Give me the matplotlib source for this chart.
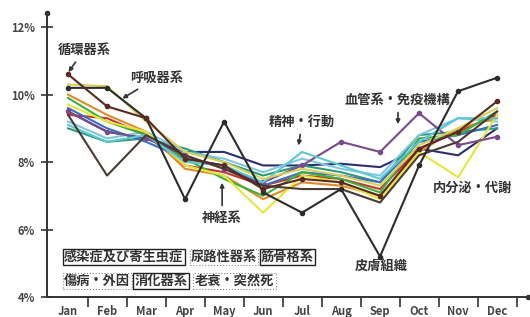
import matplotlib.pyplot as plt

plt.rcParams['font.family'] = ['Noto Sans CJK JP', 'DejaVu Sans']

months = ['Jan', 'Feb', 'Mar', 'Apr', 'May', 'Jun', 'Jul', 'Aug', 'Sep', 'Oct', 'Nov', 'Dec']

# monthly share of deaths (%) per cause
junkan = [10.6, 9.65, 9.3, 8.1, 7.9, 7.2, 7.5, 7.4, 7.0, 8.4, 8.9, 9.8]
kokyu = [10.3, 10.25, 9.2, 8.3, 8.0, 7.5, 7.8, 7.6, 7.3, 8.5, 9.0, 9.6]
hifu = [10.2, 10.2, 9.3, 6.9, 9.2, 7.1, 6.5, 7.2, 5.2, 7.9, 10.1, 10.5]
seishin = [9.1, 8.6, 8.8, 8.0, 7.9, 7.4, 8.3, 7.9, 7.5, 8.6, 9.3, 9.3]
ketsueki = [9.5, 8.9, 8.7, 8.2, 7.8, 7.4, 7.9, 8.6, 8.3, 9.45, 8.5, 8.75]
naibunpi = [9.7, 9.2, 8.9, 7.9, 7.6, 6.5, 7.6, 7.4, 6.9, 8.3, 7.55, 9.4]
shinkei = [9.9, 9.2, 8.8, 8.1, 7.5, 7.0, 7.7, 7.5, 7.1, 8.7, 8.8, 9.5]
shinsei = [9.5, 8.9, 8.7, 8.3, 8.3, 7.9, 7.9, 7.95, 7.85, 8.4, 8.2, 9.0]
shoka = [9.6, 9.0, 8.6, 8.1, 7.9, 7.3, 7.7, 7.6, 7.4, 8.6, 8.8, 9.1]
kansen = [9.4, 9.3, 8.8, 7.9, 7.7, 7.3, 7.6, 7.5, 7.2, 8.4, 8.9, 9.4]
nyoro = [10.0, 9.4, 8.9, 7.8, 7.6, 6.9, 7.4, 7.3, 7.0, 8.3, 9.0, 9.3]
kinkotsu = [9.2, 8.7, 8.9, 8.3, 8.1, 7.7, 8.1, 7.8, 7.6, 8.8, 9.3, 9.2]
shobyo = [9.0, 8.6, 8.7, 8.4, 8.0, 7.6, 7.9, 7.7, 7.4, 8.8, 8.9, 9.0]
rosui = [9.4, 7.6, 8.8, 8.2, 7.8, 7.3, 7.2, 7.2, 6.8, 8.2, 8.6, 9.5]

series = [
    (shinsei, '#2a2f6e', False),
    (shobyo, '#2e9a7a', False),
    (kinkotsu, '#7fc6e0', False),
    (kansen, '#c8342e', False),
    (nyoro, '#e08a2a', False),
    (shoka, '#3a6fc0', False),
    (shinkei, '#3fae3f', False),
    (naibunpi, '#e6e63a', False),
    (ketsueki, '#7a4a8a', True),
    (seishin, '#5cc8d0', False),
    (rosui, '#4a3a34', False),
    (kokyu, '#d8cf5a', False),
    (hifu, '#2c2c2c', True),
    (junkan, '#5a2a22', True),
]

fig = plt.figure(figsize=(5.3, 3.17), dpi=100)
ax = fig.add_axes([0.0887, 0.0631, 0.908, 0.896])

x = list(range(len(months)))
for vals, col, mk in series:
    ax.plot(x, vals, color=col, lw=1.5, marker='o' if mk else None, ms=3)

ax.set_xlim(-0.54, 11.8)
ax.set_ylim(4, 12.42)
ax.spines['top'].set_visible(False)
ax.spines['right'].set_visible(False)
for s in ['left', 'bottom']:
    ax.spines[s].set_color('#333333')
    ax.spines[s].set_linewidth(1.4)
ax.plot([0], [1], 'o', color='#333333', ms=3, transform=ax.transAxes, clip_on=False)
ax.plot([1], [0], 'o', color='#333333', ms=3, transform=ax.transAxes, clip_on=False)

ax.set_yticks([4, 6, 8, 10, 12])
ax.set_yticklabels(['4%', '6%', '8%', '10%', '12%'], fontsize=8, fontweight='bold', color='#444444')
ax.tick_params(axis='y', direction='inout', length=9, width=1.2, color='#333333', pad=4)
ax.set_xticks([i + 0.5 for i in range(12)])
ax.set_xticklabels([])
ax.set_xticks(x, minor=True)
ax.set_xticklabels(months, minor=True, fontsize=8, fontweight='bold', color='#444444')
ax.tick_params(axis='x', which='major', direction='out', length=7, width=1.2, color='#333333')
ax.tick_params(axis='x', which='minor', length=0, pad=6)

lab = dict(fontsize=9.5, fontweight='bold', color='#333333')
arw = dict(arrowstyle='-|>', color='#333333', lw=1.2, mutation_scale=6)
ax.annotate('循環器系', xy=(-0.03, 10.6), xytext=(0.41, 11.32), ha='center', va='center', arrowprops=arw, **lab)
ax.annotate('呼吸器系', xy=(1.33, 9.84), xytext=(2.26, 10.49), ha='center', va='center', arrowprops=arw, **lab)
ax.annotate('精神・行動', xy=(5.9, 8.41), xytext=(6.0, 9.19), ha='center', va='center', arrowprops=arw, **lab)
ax.annotate('血管系・免疫機構', xy=(8.46, 9.04), xytext=(8.46, 9.84), ha='center', va='center', arrowprops=arw, **lab)
ax.annotate('神経系', xy=(3.95, 7.47), xytext=(3.95, 6.34), ha='center', va='center', arrowprops=arw, **lab)
ax.text(10.36, 7.23, '内分泌・代謝', ha='center', va='center', **lab)
ax.text(8.03, 4.92, '皮膚組織', ha='center', va='center', **lab)

solid = dict(boxstyle='square,pad=0.1', fc='white', ec='#222222', lw=1.0)
dotted = dict(boxstyle='square,pad=0.1', fc='white', ec='#888888', lw=0.8, ls=':')
ax.text(-0.1, 5.19, '感染症及び寄生虫症', ha='left', va='center', bbox=solid, **lab)
ax.text(3.15, 5.19, '尿路性器系', ha='left', va='center', bbox=dotted, **lab)
ax.text(4.95, 5.19, '筋骨格系', ha='left', va='center', bbox=solid, **lab)
ax.text(-0.1, 4.47, '傷病・外因', ha='left', va='center', bbox=dotted, **lab)
ax.text(1.7, 4.47, '消化器系', ha='left', va='center', bbox=solid, **lab)
ax.text(3.25, 4.47, '老衰・突然死', ha='left', va='center', bbox=dotted, **lab)

fig.savefig('out.png', dpi=100)
